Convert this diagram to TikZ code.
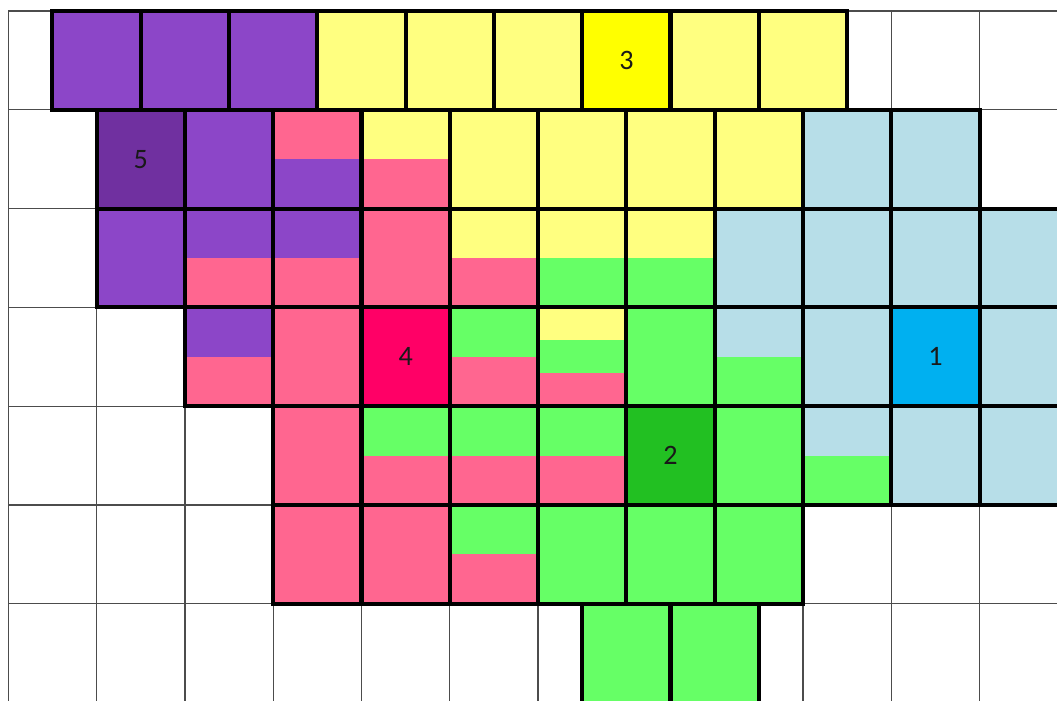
\documentclass[tikz,border=0pt]{standalone}
\usepackage{fontspec}
\setmainfont{Carlito}
\usepackage{xcolor}
\usepackage{tikz}

\definecolor{lila}{RGB}{140,70,200}
\definecolor{lilaDark}{RGB}{112,48,160}
\definecolor{gelb}{RGB}{255,255,128}
\definecolor{gelbHot}{RGB}{255,255,0}
\definecolor{rosa}{RGB}{255,102,144}
\definecolor{rosaHot}{RGB}{255,0,102}
\definecolor{gruen}{RGB}{102,255,102}
\definecolor{gruenDark}{RGB}{34,192,34}
\definecolor{eis}{RGB}{183,222,232}
\definecolor{eisHot}{RGB}{0,176,240}

\newcommand{\cell}[3]{\filldraw[box,fill=#3] (#1,#2) rectangle ++(1,1);}
\newcommand{\halfcell}[4]{%
  \fill[#3] (#1,#2) rectangle ++(1,.5);
  \fill[#4] (#1,#2+.5) rectangle ++(1,.5);
  \draw[box] (#1,#2) rectangle ++(1,1);}

\begin{document}
\begin{tikzpicture}[
  x=2.2075cm, y=-2.47cm,
  thin grid/.style={draw=black!70,line width=0.9pt},
  box/.style={draw=black,line width=2.9pt,line join=miter},
  num/.style={font=\fontsize{20}{24}\selectfont,text=black!90,inner sep=0pt}
]
\useasboundingbox (-0.094,-0.1113) rectangle (11.877,6.974);
\clip (-0.094,-0.1113) rectangle (11.877,6.974);
\fill[white] (-0.094,-0.1113) rectangle (11.877,6.974);

\foreach \i in {0,...,12} \draw[thin grid] (\i,0) -- (\i,7.5);
\foreach \j in {0,...,7} \draw[thin grid] (0,\j) -- (12.5,\j);

% row 0, shifted by half a cell
\foreach \c in {0.5,1.5,2.5} \cell{\c}{0}{lila};
\foreach \c in {3.5,4.5,5.5,7.5,8.5} \cell{\c}{0}{gelb};
\cell{6.5}{0}{gelbHot}

% row 1
\cell{1}{1}{lilaDark}
\cell{2}{1}{lila}
\halfcell{3}{1}{rosa}{lila}
\halfcell{4}{1}{gelb}{rosa}
\foreach \c in {5,...,8} \cell{\c}{1}{gelb};
\foreach \c in {9,10} \cell{\c}{1}{eis};

% row 2
\cell{1}{2}{lila}
\halfcell{2}{2}{lila}{rosa}
\halfcell{3}{2}{lila}{rosa}
\cell{4}{2}{rosa}
\halfcell{5}{2}{gelb}{rosa}
\halfcell{6}{2}{gelb}{gruen}
\halfcell{7}{2}{gelb}{gruen}
\foreach \c in {8,...,11} \cell{\c}{2}{eis};

% row 3
\halfcell{2}{3}{lila}{rosa}
\cell{3}{3}{rosa}
\cell{4}{3}{rosaHot}
\halfcell{5}{3}{gruen}{rosa}
\fill[gelb] (6,3) rectangle ++(1,1/3);
\fill[gruen] (6,3+1/3) rectangle ++(1,1/3);
\fill[rosa] (6,3+2/3) rectangle ++(1,1/3);
\draw[box] (6,3) rectangle ++(1,1);
\cell{7}{3}{gruen}
\halfcell{8}{3}{eis}{gruen}
\cell{9}{3}{eis}
\cell{10}{3}{eisHot}
\cell{11}{3}{eis}

% row 4
\cell{3}{4}{rosa}
\foreach \c in {4,5,6} \halfcell{\c}{4}{gruen}{rosa};
\cell{7}{4}{gruenDark}
\cell{8}{4}{gruen}
\halfcell{9}{4}{eis}{gruen}
\foreach \c in {10,11} \cell{\c}{4}{eis};

% row 5
\foreach \c in {3,4} \cell{\c}{5}{rosa};
\halfcell{5}{5}{gruen}{rosa}
\foreach \c in {6,7,8} \cell{\c}{5}{gruen};

% row 6, shifted by half a cell
\foreach \c in {6.5,7.5} \cell{\c}{6}{gruen};

\node[num] (n1) at (10.5,3.5) {1};
\node[num] (n2) at (7.5,4.5) {2};
\node[num] (n3) at (7,0.5) {3};
\node[num] (n4) at (4.5,3.5) {4};
\node[num] (n5) at (1.5,1.5) {5};
\end{tikzpicture}
\end{document}
